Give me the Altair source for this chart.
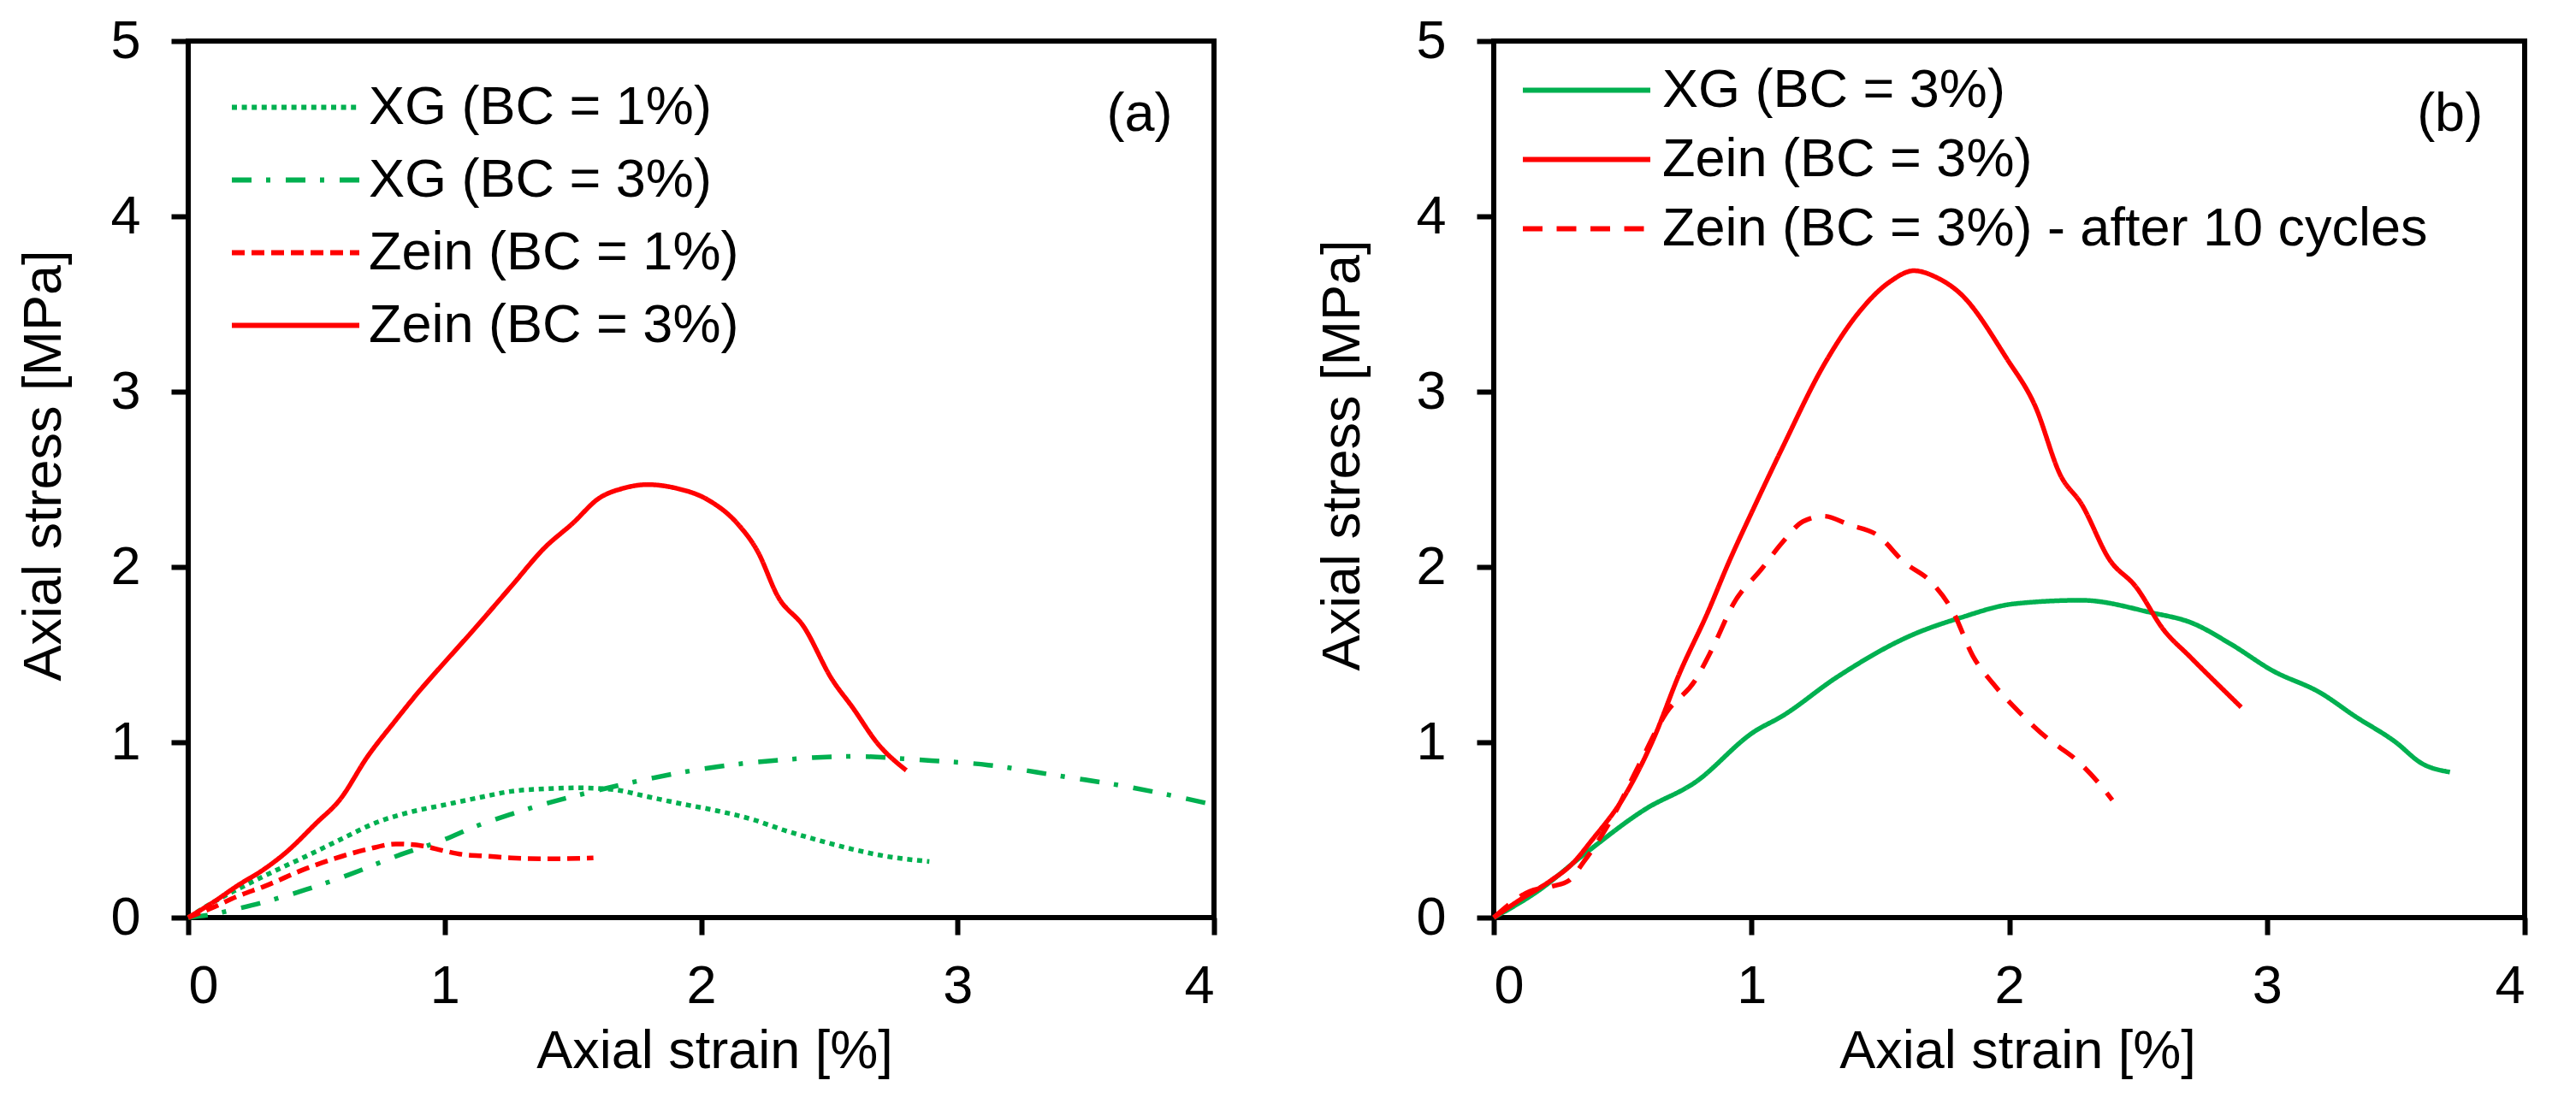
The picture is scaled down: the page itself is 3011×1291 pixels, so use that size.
import altair as alt
import pandas as pd

FONT = "Liberation Sans"
FS = 63
GREEN = "#00B050"
RED = "#FF0000"

# ---------------- Panel (a) ----------------
a_labels = ["XG (BC = 1%)", "XG (BC = 3%)", "Zein (BC = 1%)", "Zein (BC = 3%)"]

a_xg1_x = [0, 0.1, 0.19, 0.3, 0.46, 0.6, 0.73, 0.86, 0.99, 1.12, 1.26, 1.4, 1.52, 1.66, 1.79, 1.92, 2.06, 2.2, 2.32, 2.46, 2.59, 2.72, 2.89]
a_xg1_y = [0, 0.09, 0.16, 0.24, 0.35, 0.45, 0.54, 0.60, 0.64, 0.68, 0.72, 0.735, 0.74, 0.73, 0.69, 0.65, 0.61, 0.56, 0.50, 0.44, 0.39, 0.35, 0.32]

a_xg3_x = [0, 0.1, 0.19, 0.3, 0.46, 0.6, 0.83, 0.99, 1.12, 1.26, 1.42, 1.58, 1.79, 2.06, 2.32, 2.59, 2.85, 3.12, 3.39, 3.65, 3.98]
a_xg3_y = [0, 0.02, 0.05, 0.09, 0.16, 0.23, 0.36, 0.44, 0.52, 0.59, 0.66, 0.72, 0.79, 0.86, 0.90, 0.92, 0.90, 0.87, 0.81, 0.75, 0.65]

a_z1_x = [0, 0.1, 0.19, 0.3, 0.46, 0.6, 0.7, 0.81, 0.91, 1.0, 1.07, 1.17, 1.26, 1.4, 1.58]
a_z1_y = [0, 0.06, 0.12, 0.18, 0.28, 0.35, 0.39, 0.42, 0.41, 0.38, 0.36, 0.35, 0.34, 0.335, 0.34]

a_z3_x = [0, 0.1, 0.19, 0.3, 0.38, 0.5, 0.59, 0.7, 0.806, 0.9, 0.99, 1.1, 1.26, 1.39, 1.5, 1.6, 1.7, 1.79, 1.9, 2.03, 2.14, 2.22, 2.3, 2.4, 2.51, 2.59, 2.69, 2.8]
a_z3_y = [0, 0.09, 0.18, 0.28, 0.37, 0.54, 0.67, 0.92, 1.12, 1.29, 1.44, 1.62, 1.89, 2.11, 2.25, 2.39, 2.45, 2.47, 2.45, 2.38, 2.25, 2.09, 1.83, 1.66, 1.36, 1.20, 0.99, 0.84]

# ---------------- Panel (b) ----------------
b_labels = ["XG (BC = 3%)", "Zein (BC = 3%)", "Zein (BC = 3%) - after 10 cycles"]

b_xg3_x = [0, 0.17, 0.35, 0.59, 0.78, 1.01, 1.12, 1.33, 1.62, 1.81, 2.02, 2.28, 2.55, 2.71, 2.86, 3.02, 3.21, 3.34, 3.5, 3.6, 3.71]
b_xg3_y = [0, 0.15, 0.36, 0.62, 0.77, 1.06, 1.15, 1.37, 1.61, 1.71, 1.79, 1.81, 1.74, 1.68, 1.56, 1.41, 1.28, 1.15, 1.00, 0.88, 0.83]

b_z3_x = [0, 0.1, 0.22, 0.3, 0.38, 0.51, 0.62, 0.72, 0.83, 0.91, 1.01, 1.12, 1.28, 1.41, 1.54, 1.63, 1.72, 1.81, 1.99, 2.10, 2.20, 2.28, 2.39, 2.49, 2.60, 2.70, 2.90]
b_z3_y = [0, 0.1, 0.21, 0.3, 0.44, 0.70, 1.02, 1.39, 1.74, 2.02, 2.34, 2.68, 3.15, 3.44, 3.63, 3.69, 3.65, 3.56, 3.19, 2.92, 2.52, 2.36, 2.04, 1.89, 1.64, 1.49, 1.20]

b_z10_x = [0, 0.14, 0.23, 0.29, 0.35, 0.46, 0.56, 0.67, 0.78, 0.85, 0.93, 1.04, 1.12, 1.20, 1.28, 1.38, 1.49, 1.59, 1.70, 1.78, 1.86, 1.94, 2.04, 2.15, 2.26, 2.34, 2.40]
b_z10_y = [0, 0.15, 0.18, 0.21, 0.32, 0.57, 0.86, 1.17, 1.35, 1.54, 1.79, 1.99, 2.14, 2.26, 2.29, 2.24, 2.18, 2.03, 1.91, 1.75, 1.49, 1.33, 1.17, 1.02, 0.90, 0.78, 0.67]

x_ticks = [0, 1, 2, 3, 4]
y_ticks = [0, 1, 2, 3, 4, 5]


def frame(series):
    rows = []
    for name, xs, ys in series:
        for i, (x, y) in enumerate(zip(xs, ys)):
            rows.append({"series": name, "x": x, "y": y, "i": i})
    return pd.DataFrame(rows)


df_a = frame([
    (a_labels[0], a_xg1_x, a_xg1_y),
    (a_labels[1], a_xg3_x, a_xg3_y),
    (a_labels[2], a_z1_x, a_z1_y),
    (a_labels[3], a_z3_x, a_z3_y),
])
df_b = frame([
    (b_labels[0], b_xg3_x, b_xg3_y),
    (b_labels[1], b_z3_x, b_z3_y),
    (b_labels[2], b_z10_x, b_z10_y),
])

H = 1025
SYM_LEN = 149.0
SYM_PATH = "M-4,0H4"                      # line 4x wider than the nominal symbol box
SYM_SIZE = (SYM_LEN / 4.0) ** 2           # nominal box = SYM_LEN / 4


def panel(df, labels, colors, dashes, tag, width, legend_x, legend_y, row_pad, label_off,
          title_pad_y, title_x, title_y):
    x = alt.X("x:Q", scale=alt.Scale(domain=[0, 4], nice=False),
              axis=alt.Axis(values=x_ticks, format="d", title="Axial strain [%]",
                            labelPadding=29, titlePadding=13, titleX=title_x))
    y = alt.Y("y:Q", scale=alt.Scale(domain=[0, 5], nice=False),
              axis=alt.Axis(values=y_ticks, format="d", title="Axial stress [MPa]",
                            labelPadding=36, titlePadding=title_pad_y, titleY=title_y))
    legend = alt.Legend(title=None, orient="none", legendX=legend_x, legendY=legend_y,
                        symbolType=SYM_PATH, symbolSize=SYM_SIZE, symbolStrokeWidth=6,
                        labelFont=FONT, labelFontSize=FS, labelColor="black",
                        labelOffset=label_off, rowPadding=row_pad, padding=0, labelLimit=2000)
    lines = alt.Chart(df).mark_line(strokeWidth=5.5, interpolate="monotone").encode(
        x=x, y=y,
        color=alt.Color("series:N", scale=alt.Scale(domain=labels, range=colors), legend=legend),
        strokeDash=alt.StrokeDash("series:N", scale=alt.Scale(domain=labels, range=dashes), legend=legend),
        order="i:Q",
    )
    tag_df = pd.DataFrame({"x": [3.71], "y": [4.58], "t": [tag]})
    txt = alt.Chart(tag_df).mark_text(font=FONT, fontSize=FS, color="black",
                                      align="center", baseline="middle").encode(
        x=alt.X("x:Q", scale=alt.Scale(domain=[0, 4], nice=False)),
        y=alt.Y("y:Q", scale=alt.Scale(domain=[0, 5], nice=False)),
        text="t:N",
    )
    return alt.layer(lines, txt).properties(width=width, height=H)


left = panel(df_a, a_labels, [GREEN, GREEN, RED, RED],
             [[6, 5.6], [23, 17, 5, 18], [15, 8], [1, 0]], "(a)", 1199,
             94, 46, 21, 54, 45, 615, 496)
right = panel(df_b, b_labels, [GREEN, RED, RED],
              [[1, 0], [1, 0], [23, 16.5]], "(b)", 1205,
              77, 26, 17, 57, 53, 612, 484)

chart = alt.hconcat(left, right, spacing=107).resolve_scale(
    color="independent", strokeDash="independent", x="independent", y="independent"
).resolve_legend(color="independent", strokeDash="independent").properties(
    padding={"left": 9, "top": 6, "right": 0, "bottom": 0},
    background="white",
).configure_view(
    stroke="black", strokeWidth=6
).configure_axis(
    domain=False, grid=False, ticks=True, tickColor="black", tickWidth=6, tickSize=20,
    labelFont=FONT, labelFontSize=FS, labelColor="black",
    titleFont=FONT, titleFontSize=FS, titleFontWeight="normal", titleColor="black",
)

chart.save("out.html", embed_options={"renderer": "svg", "actions": False})
